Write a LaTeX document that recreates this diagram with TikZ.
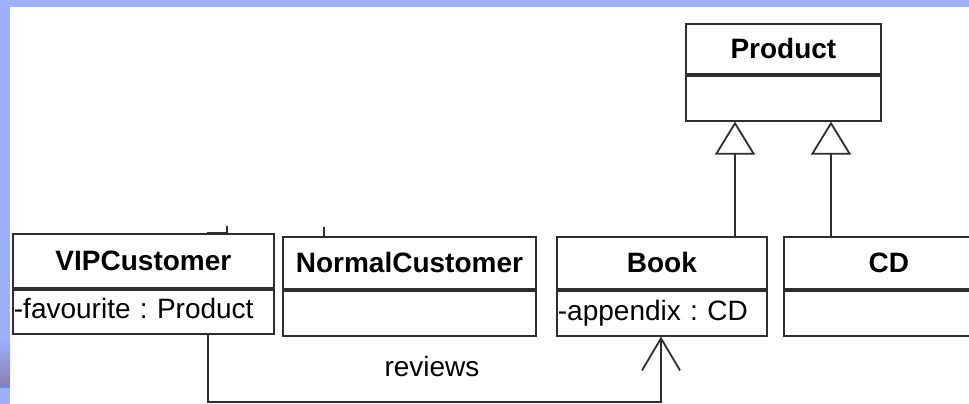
\documentclass[tikz,border=0pt]{standalone}
\usepackage{fontspec}
\setmainfont{Liberation Sans}
\frenchspacing
\usetikzlibrary{arrows.meta}
\definecolor{frameblue}{HTML}{9DB1FF}
\definecolor{framepurple}{HTML}{8A7DB2}
\definecolor{frameline}{HTML}{6F88DA}
\definecolor{umlline}{HTML}{2E2E2E}
\tikzset{
  classtitle/.style={draw=umlline, line width=1.8pt, anchor=north west, inner sep=0pt,
    font=\fontsize{28}{32}\selectfont\bfseries, align=center},
  classattr/.style={draw=umlline, line width=1.8pt, anchor=north west, inner xsep=1pt, inner ysep=0pt,
    font=\fontsize{28}{32}\selectfont, align=left, text height=20pt, text depth=6pt},
  link/.style={draw=umlline, line width=1.8pt},
  generalize/.style={link, -{Triangle[open, length=33pt, width=40pt, line width=1.8pt]}},
  navigable/.style={link, -{Straight Barb[length=32pt, width=38pt, line width=1.8pt]}},
}
\begin{document}
\begin{tikzpicture}[x=1pt, y=-1pt]
  \useasboundingbox (0,0) rectangle (969,404);
  \clip (0,0) rectangle (969,404);
  % window frame
  \fill[white] (0,0) rectangle (969,404);
  \fill[frameblue] (0,0) rectangle (969,7);
  \fill[frameblue] (0,0) rectangle (10,404);
  \shade[top color=frameblue, bottom color=framepurple] (0,340) rectangle (10,385);
  \fill[frameline] (0,385) rectangle (10,388);

  % Product
  \node[classtitle, minimum width=195pt, minimum height=50pt] (prodT) at (685,23) {Product};
  \node[classattr, minimum width=195pt, minimum height=45pt] (prodA) at (prodT.south west) {};

  % VIPCustomer
  \node[classtitle, minimum width=261pt, minimum height=54pt] (vipT) at (12,233) {VIPCustomer};
  \node[classattr, minimum width=261pt, minimum height=44pt, text width=259pt] (vipA) at (vipT.south west) {-favourite : Product};

  % NormalCustomer
  \node[classtitle, minimum width=253pt, minimum height=52pt] (normT) at (282,236) {NormalCustomer};
  \node[classattr, minimum width=253pt, minimum height=45pt] (normA) at (normT.south west) {};

  % Book
  \node[classtitle, minimum width=210pt, minimum height=52pt] (bookT) at (556,236) {Book};
  \node[classattr, minimum width=210pt, minimum height=45pt, text width=208pt] (bookA) at (bookT.south west) {-appendix : CD};

  % CD
  \node[classtitle, minimum width=210pt, minimum height=52pt] (cdT) at (783,236) {CD};
  \node[classattr, minimum width=210pt, minimum height=45pt] (cdA) at (cdT.south west) {};

  % generalizations
  \coordinate (bookUp) at ([xshift=179pt]bookT.north west);
  \coordinate (cdUp) at ([xshift=48pt]cdT.north west);
  \draw[generalize] (bookUp) -- (bookUp |- prodA.south);
  \draw[generalize] (cdUp) -- (cdUp |- prodA.south);

  % reviews association
  \coordinate (vipDown) at ([xshift=196pt]vipA.south west);
  \coordinate (bookDown) at ([xshift=105pt]bookA.south west);
  \coordinate (low) at (0,402);
  \draw[navigable] (vipDown) -- (vipDown |- low) -| (bookDown);
  \node[font=\fontsize{28}{32}\selectfont] (reviews) at (432,366) {reviews};

  % stubs of connectors above the customer classes
  \coordinate (vipStub) at ([xshift=215pt]vipT.north west);
  \coordinate (normStub) at ([xshift=42pt]normT.north west);
  \draw[link] (vipStub) -- ++(0,-7);
  \draw[link] ([xshift=-20pt]vipStub) -- (vipStub);
  \draw[link] (normStub) -- ++(0,-9);
\end{tikzpicture}
\end{document}
